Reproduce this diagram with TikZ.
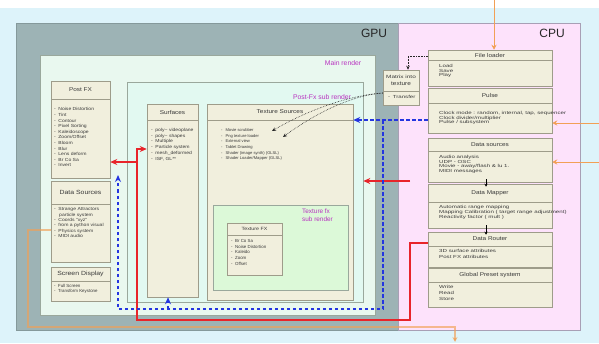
\documentclass[tikz,border=0pt]{standalone}
\usepackage{fontspec}
\setmainfont{Liberation Sans}
\newfontfamily\fw[FakeStretch=1.4]{Liberation Sans}
\newfontfamily\fm[FakeStretch=1.15]{Liberation Sans}
\usetikzlibrary{arrows.meta,fit}
\definecolor{bgc}{HTML}{DDF3FA}
\definecolor{gpuc}{HTML}{9DB3B5}
\definecolor{gpul}{HTML}{85999B}
\definecolor{cpuc}{HTML}{FDE2FB}
\definecolor{cpul}{HTML}{A89FB5}
\definecolor{mainc}{HTML}{E9F8EF}
\definecolor{subc}{HTML}{E2F9F1}
\definecolor{tfxc}{HTML}{DCF9D8}
\definecolor{regl}{HTML}{9AA89C}
\definecolor{cream}{HTML}{F1EFDD}
\definecolor{boxl}{HTML}{9E9C8A}
\definecolor{txt}{HTML}{3A3A3A}
\definecolor{mag}{HTML}{B832C0}
\definecolor{redc}{HTML}{E8242A}
\definecolor{bluec}{HTML}{2435E0}
\definecolor{orc}{HTML}{F2A055}
\tikzset{
  x=1pt, y=-1pt,
  region/.style={draw=#1, line width=0.6pt, inner sep=0pt},
  panel/.style={draw=boxl, fill=cream, line width=0.5pt, inner sep=0pt},
  divl/.style={draw=boxl, line width=0.5pt},
  ttl/.style={font=\fm\fontsize{5.6}{6.4}\selectfont, text=txt, inner sep=0pt, align=center},
  itm/.style={font=\fontsize{4.4}{5.6}\selectfont, text=txt, align=left, anchor=north west, inner sep=0pt},
  itmc/.style={itm, font=\fw\fontsize{4.4}{4.8}\selectfont},
  biglbl/.style={font=\fontsize{12}{14}\selectfont, text=black!85, inner sep=0pt},
  maglbl/.style={font=\fontsize{6.8}{7.6}\selectfont, text=mag, inner sep=0pt},
  redl/.style={draw=redc, line width=1.1pt, -{Stealth[length=7pt,width=6pt]}},
  bluel/.style={draw=bluec, line width=1.3pt, dash pattern=on 3.5pt off 2.5pt, -{Stealth[length=7pt,width=6pt]}},
  bluep/.style={draw=bluec, line width=1.3pt, dash pattern=on 3.5pt off 2.5pt},
  dotl/.style={draw=black!85, line width=0.6pt, densely dotted, -{Stealth[length=4pt,width=3.5pt]}},
  orl/.style={draw=orc, line width=1pt, -{Stealth[length=5pt,width=5pt]}},
  tanl/.style={draw=orc, draw opacity=0.65, line width=1.5pt, -{Stealth[length=5pt,width=5pt]}},
  blk/.style={draw=black, line width=0.6pt, -{Stealth[length=3pt,width=3pt]}},
}
\newcommand\panelbox[7]{%
  \node[panel, fit={(#2,#3) (#4,#5)}] (#1) {};
  \draw[divl] (#2,#6) -- (#4,#6);
  \node[ttl] (#1-t) at ({(#2+#4)/2},{(#3+#6)/2}) {#7};
}
\begin{document}
\begin{tikzpicture}
\useasboundingbox (0,0) rectangle (599,343);
\fill[white] (0,0) rectangle (599,343);
\fill[bgc] (0,8) rectangle (599,343);
% regions
\node[region=gpul, fill=gpuc, fit={(16,23) (398,330)}] (gpu) {};
\node[region=cpul, fill=cpuc, fit={(398,23) (580,330)}] (cpu) {};
\node[region=regl, fill=mainc, fit={(40,55) (375,315)}] (main) {};
\node[region=regl, fill=subc, fit={(127,82) (363,302)}] (psr) {};
\node[biglbl] (gpulbl) at (374,33) {GPU};
\node[biglbl] (cpulbl) at (552,33) {CPU};
\node[maglbl] (mainlbl) at (343,63) {Main render};
\node[maglbl] (psrlbl) at (322,97) {Post-Fx sub render};
% GPU left column
\panelbox{pfx}{51}{81}{110}{178}{99}{Post FX}
\node[itm, font=\fm\fontsize{4.4}{5.6}\selectfont] (pfx-i) at (54,107.5) {-\hspace{2.5pt}Noise Distortion\\-\hspace{2.5pt}Tint\\-\hspace{2.5pt}Contour\\-\hspace{2.5pt}Pixel Sorting\\-\hspace{2.5pt}Kaleidoscope\\-\hspace{2.5pt}Zoom/Offset\\-\hspace{2.5pt}Bloom\\-\hspace{2.5pt}Blur\\-\hspace{2.5pt}Lens deform\\-\hspace{2.5pt}Br Co Sa\\-\hspace{2.5pt}Invert};
\panelbox{gds}{51}{181}{110}{262}{204}{\fontsize{6}{7}\selectfont Data Sources}
\node[itm, font=\fm\fontsize{4.4}{5.4}\selectfont] (gds-i) at (54,207.5) {-\hspace{2.5pt}Strange Attractors\\\hspace{5pt}particle system\\-\hspace{2.5pt}Coords "xyz"\\-\hspace{2.5pt}from a python visual\\-\hspace{2.5pt}Physics system\\-\hspace{2.5pt}MIDI audio};
\panelbox{scr}{51}{267}{110}{301}{281}{\fontsize{6}{7}\selectfont Screen Display}
\node[itm] (scr-i) at (54,284) {-\hspace{2.5pt}Full Screen\\-\hspace{2.5pt}Transform Keystone};
% Surfaces and texture sources
\panelbox{surf}{147}{104}{198}{297}{120}{Surfaces}
\node[itm, font=\fm\fontsize{4.4}{5.8}\selectfont] (surf-i) at (151,128) {-\hspace{2.5pt}poly\textasciitilde\ videoplane\\-\hspace{2.5pt}poly\textasciitilde\ shapes\\-\hspace{2.5pt}Multiple\\-\hspace{2.5pt}Particle system\\-\hspace{2.5pt}mesh\_deformed\\-\hspace{2.5pt}ISF, GL**};
\panelbox{ts}{207}{104}{353}{300}{120}{Texture Sources}
\node[itm, font=\fontsize{4.1}{5.6}\selectfont] (ts-i) at (221,128.5) {-\hspace{3pt}Movie scrubber\\-\hspace{3pt}Png texture loader\\-\hspace{3pt}External view\\-\hspace{3pt}Tablet Drawing\\-\hspace{3pt}Shader (image synth) (GLSL)\\-\hspace{3pt}Shader Loader/Mapper (GLSL)};
\node[region=regl, fill=tfxc, fit={(213,205) (348,290)}] (tfr) {};
\node[maglbl, font=\fontsize{6.4}{7.4}\selectfont, align=left, anchor=north west] (tfrlbl) at (302,209) {Texture fx\\sub render};
\panelbox{tfx}{227}{223}{282}{275}{235}{\fontsize{4.6}{5}\selectfont Texture FX}
\node[itm] (tfx-i) at (231,239.5) {-\hspace{2.5pt}Br Co Sa\\-\hspace{2.5pt}Noise Distortion\\-\hspace{2.5pt}Kaleido\\-\hspace{2.5pt}Zoom\\-\hspace{2.5pt}Offset};
% Matrix into texture
\panelbox{mx}{383}{70}{419}{105}{91}{\fw\fontsize{4.6}{5.4}\selectfont Matrix into\\texture}
\node[itm, font=\fw\fontsize{4.4}{5}\selectfont] (mx-i) at (388,95.5) {-\hspace{2.5pt}Transfer};
% CPU column
\panelbox{fl}{428}{50}{552}{86}{60}{File loader}
\node[itmc] (fl-i) at (439,64) {Load\\Save\\Play};
\panelbox{pulse}{428}{88}{552}{133}{103}{Pulse}
\node[itmc] (pulse-i) at (439,111) {Clock mode : random, internal, tap, sequencer\\Clock divider/multiplier\\Pulse / subsystem};
\panelbox{ds}{428}{138}{552}{182}{151}{Data sources}
\node[itmc] (ds-i) at (439,155) {Audio analysis\\UDP - OSC\\Movie - away/flash \& lu 1.\\MIDI messages};
\panelbox{dm}{428}{184}{552}{228}{202}{Data Mapper}
\node[itmc] (dm-i) at (439,205.5) {Automatic range mapping\\Mapping Calibration ( target range adjustment)\\Reactivity factor ( mult )};
\panelbox{dr}{428}{232}{552}{267}{246}{Data Router}
\node[itmc, font=\fw\fontsize{4.4}{5.6}\selectfont] (dr-i) at (439,249.5) {3D surface attributes\\Post FX attributes};
\panelbox{gp}{428}{268}{552}{307}{282}{Global Preset system}
\node[itmc, font=\fw\fontsize{4.4}{5.6}\selectfont] (gp-i) at (439,285.5) {Write\\Read\\Store};
% coordinates
\coordinate (y149) at (0,149);
\coordinate (y162) at (0,162);
\coordinate (y181) at (0,181);
\coordinate (y120) at (0,120);
\coordinate (orTop) at (494,0);
\coordinate (orR1) at (599,123);
\coordinate (orR2) at (599,162);
\coordinate (orBot) at (455,342);
\coordinate (blueTip) at (118,175);
\coordinate (tsA) at (272,131);
\coordinate (tsB) at (283,137);
% red
\draw[redl] ([yshift=6.5pt]dr.west) -| (410,320) -| (137,162) -- (137,149) -- (surf.west |- y149);
\draw[redl] (410,181) -- (psr.east |- y181);
\draw[redl] (137,162) -- (pfx.east |- y162);
% blue
\draw[bluel] ([yshift=-9.5pt]pulse.west) -- (ts.east |- y120);
\draw[bluep] (383,120) -- (383,309) -- (118,309) -- (118,190);
\draw[bluel] (118,192) -- (blueTip);
\draw[bluel] (168,309) -- (surf.south -| 168,0);
% dotted
\draw[dotl] ([yshift=12pt]fl.west) -| ([xshift=7pt]mx.north);
\draw[dotl] ([yshift=-5.5pt]mx.west) .. controls (355,95) and (320,110) .. (tsB);
\draw[dotl] ([yshift=-5.5pt]mx.west) .. controls (355,95) and (315,106) .. (tsA);
% orange
\draw[orl] (orTop) -- ([xshift=4pt]fl.north);
\draw[orl] (orR1) -- (pulse.east |- orR1);
\draw[orl] (orR2) -- (ds.east |- orR2);
\draw[tanl] ([yshift=-8.5pt]gds.west) -- (28,230) -- (28,327) -- (455,327) -- (orBot);
% black
\draw[blk] ([xshift=-4pt,yshift=3pt]ds.south) -- ([xshift=-4pt,yshift=-3pt]dm.north);
\draw[blk] ([xshift=-4pt,yshift=3pt]dm.south) -- ([xshift=-4pt,yshift=-3pt]dr.north);
\end{tikzpicture}
\end{document}
